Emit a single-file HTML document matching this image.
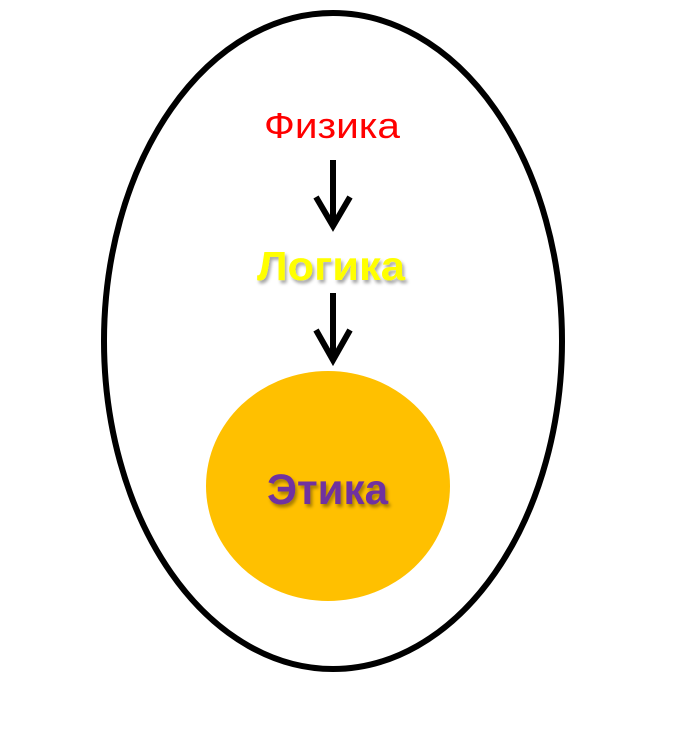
<!DOCTYPE html>
<html><head><meta charset="utf-8"><style>
html,body{margin:0;padding:0;background:#fff;}
svg{display:block;}
</style></head><body>
<svg width="682" height="732" viewBox="0 0 682 732" xmlns="http://www.w3.org/2000/svg">
<defs>
<filter id="sh" x="-20%" y="-20%" width="140%" height="160%">
<feGaussianBlur in="SourceAlpha" stdDeviation="1.5"/>
<feOffset dx="2" dy="3" result="o"/>
<feFlood flood-color="#000" flood-opacity="0.35"/>
<feComposite in2="o" operator="in"/>
<feMerge><feMergeNode/><feMergeNode in="SourceGraphic"/></feMerge>
</filter>
</defs>
<ellipse cx="333" cy="341" rx="229" ry="328" fill="none" stroke="#000" stroke-width="6"/>
<ellipse cx="328" cy="486" rx="122" ry="115" fill="#FFC000"/>
<text x="264" y="138" textLength="136" lengthAdjust="spacingAndGlyphs" font-family="Liberation Sans, sans-serif" font-size="36" fill="#FF0000">Физика</text>
<text x="257" y="280" textLength="148" lengthAdjust="spacingAndGlyphs" font-family="Liberation Sans, sans-serif" font-weight="bold" font-size="41" fill="#FFFF00" filter="url(#sh)">Логика</text>
<text x="267" y="504" textLength="121" lengthAdjust="spacingAndGlyphs" font-family="Liberation Sans, sans-serif" font-weight="bold" font-size="43" fill="#7030A0" filter="url(#sh)">Этика</text>
<g stroke="#000" stroke-width="6" fill="none" stroke-linecap="butt">
<line x1="333" y1="160" x2="333" y2="224"/>
<polyline points="316,197 333,226 350,197" stroke-linejoin="miter"/>
<line x1="333" y1="293" x2="333" y2="358"/>
<polyline points="316,330 333,360 350,330" stroke-linejoin="miter"/>
</g>
</svg>
</body></html>
